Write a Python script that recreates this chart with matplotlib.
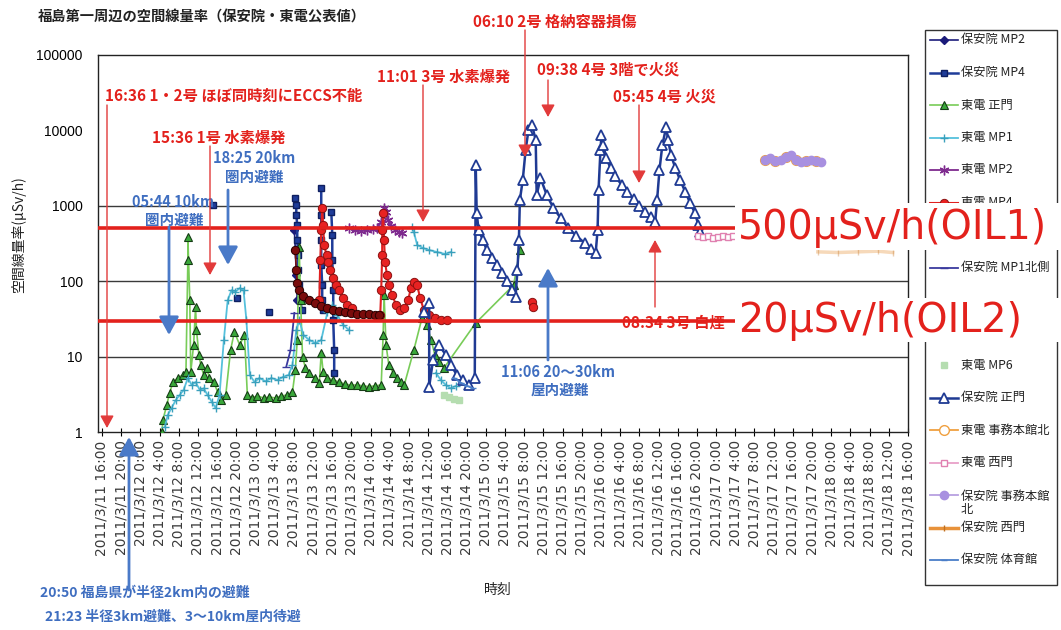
import numpy as np
import matplotlib.pyplot as plt
from matplotlib.lines import Line2D
from matplotlib.patches import Rectangle, FancyArrowPatch
from matplotlib.ticker import NullLocator

plt.rcParams['font.family'] = ['Noto Sans CJK JP', 'DejaVu Sans']

W, H = 1061, 630
nan = np.nan

# 時刻 = 2011/3/11 0:00 からの経過時間 [h]、値 = 空間線量率 [μSv/h]
hoan_mp2_t = [56.1, 56.3, 56.5, 56.7]
hoan_mp2_v = [478, 259, 121, 56]

hoan_mp4_t = [39.1, nan, 44.1, nan, 50.9, nan,
              56.3, 56.5, 56.5, 56.7, 56.7, 56.9, 56.9, 57.1, 57.4, 57.6, nan,
              61.7, 61.7, 61.7, 61.7, 61.9, 61.9, 62.1, nan,
              63.8, 64.0, 64.0, 64.2, 64.2, 64.4, 64.4]
hoan_mp4_v = [1025, nan, 60, nan, 39, nan,
              1270, 1025, 755, 556, 352, 222, 141, 89, 56, 41.5, nan,
              1720, 755, 352, 164, 89, 56, 41.5, nan,
              828, 410, 191, 76, 30.6, 12.2, 6.1]

tepco_gate_t = [28.5, 28.7, 29.5, 30.1, 30.8, 31.8, 32.8, 33.5, 33.9, 33.9,
                34.3, 34.5, 35.1, 35.5, 35.7, 36.2, 36.6, 37.2, 37.8, 38.4,
                39.3, 40.1, 40.9, 41.8, 42.8, 43.6, 44.7, 45.7, 46.3, 47.2,
                48.4, 49.7, 50.9, 52.2, 53.4, 54.6, 55.7, 56.3, 56.7, 57.1,
                57.4, 57.8, 58.4, 59.2, 60.3, 61.3, 61.7, 62.1, 63.0, 64.2,
                65.5, 66.7, 67.9, 69.2, 70.4, 71.7, 72.9, 74.2, 74.6, 74.8,
                75.2, 75.8, 76.7, 77.5, 78.3, 79.0, 81.0, 82.7, 83.7, 84.6,
                85.4, 86.2, 87.3, 93.9, 101.8, 103.1]
tepco_gate_v = [1.0, 1.44, 2.28, 3.3, 4.6, 5.2, 5.7, 6.2, 191, 386,
                56, 6.2, 14.3, 45, 22.5, 10.5, 7.7, 5.7, 7.1, 5.2,
                4.6, 3.4, 2.66, 3.1, 12.2, 21.2, 14.3, 19.3, 3.1, 2.83,
                3.0, 2.83, 2.9, 2.83, 3.0, 3.1, 3.4, 6.6, 16.6, 284,
                56, 9.9, 7.1, 6.1, 5.2, 4.5, 11.2, 6.2, 5.2, 4.9,
                4.6, 4.3, 4.2, 4.2, 4.1, 4.0, 4.1, 4.2, 19.3, 66,
                14.3, 7.7, 6.1, 5.2, 4.6, 4.2, 12.2, 32.5, 26.2, 16.6,
                10.5, 8.5, 7.1, 27.9, 89, 259]

tepco_mp1_t = [29.1, 29.7, 30.5, 31.4, 32.2, 33.0, 33.9, 34.7, 35.5, 36.4,
               37.2, 38.0, 38.9, 39.7, 40.5, 41.4, 42.2, 43.0, 43.8, 44.7,
               45.5, 46.1, 46.8, 47.8, 48.8, 50.1, 51.3, 52.6, 53.8, 54.9,
               55.7, 56.5, 57.1, 58.0, 59.2, 60.5, 61.7, 63.0, 64.0, 65.0,
               66.3, 67.5, nan,
               80.6, 81.0, 81.7, 82.9, 84.2, 85.8, 87.5, 88.7, nan,
               85.6, 86.6, 87.7, 88.7, 89.8]
tepco_mp1_v = [1.16, 1.68, 2.08, 2.66, 3.1, 3.6, 5.2, 4.2, 4.6, 3.6,
               3.8, 3.1, 2.5, 2.08, 3.1, 16.6, 56, 76, 72, 81,
               76, 30.6, 5.7, 4.6, 5.2, 4.7, 5.2, 4.9, 5.4, 5.7,
               7.7, 22.5, 30.6, 19.3, 16.6, 15.1, 16.6, 39, 48, 36,
               26.2, 22.5, nan,
               523, 450, 302, 276, 259, 244, 230, 244, nan,
               6.1, 4.9, 4.2, 3.8, 4.1]

tepco_mp2_t = [67.5, 68.8, 70.0, 71.3, 72.5, 73.4, 74.2, 74.8, 75.2, 75.6,
               76.3, 77.1, 77.9, 78.5]
tepco_mp2_v = [508, 478, 463, 478, 492, 508, 610, 935, 828, 648,
               540, 478, 450, 436]

tepco_mp4_t = [61.3, 61.5, 61.7, 61.9, 62.1, 62.3, 62.8, 63.2, 63.6, 64.2,
               64.8, 65.5, 66.3, 67.1, 68.2, nan,
               74.0, 74.2, 74.4, 74.4, 74.6, 74.8, 75.0, 75.4, 75.8, 76.5,
               77.3, 78.1, 79.0, 79.8, 80.4, 81.0, 81.7, 82.3, 83.1, 84.2,
               85.4, 86.6, 87.9, nan,
               105.6, 105.8]
tepco_mp4_v = [56, 191, 478, 935, 556, 302, 222, 180, 141, 110,
               89, 76, 60, 48, 44, nan,
               36, 76, 222, 478, 803, 352, 180, 121, 89, 66,
               48, 41.5, 44, 56, 81, 98, 89, 60, 41.5, 36,
               32.5, 30.6, 30.6, nan,
               53, 45]

tepco_mp3_t = [56.3, 56.5, 56.7, 57.1, 58.0, 59.2, 60.5, 61.7, 63.0, 64.2,
               65.5, 66.7, 67.9, 69.2, 70.4, 71.7, 72.9, 73.8]
tepco_mp3_v = [259, 141, 95, 76, 64, 56, 51, 47, 44, 41.5,
               40, 39, 38, 37, 37, 37, 36, 36]

hoan_mp1n_t = [54.4, 55.3, 56.1]
hoan_mp1n_v = [7.3, 12.2, 38]

tepco_mp6_t = [87.3, 88.3, 89.4, 90.4]
tepco_mp6_v = [3.1, 2.9, 2.7, 2.66]

hoan_gate_t = [83.1, 84.2, 84.2, 85.0, 86.2, 87.7, 88.7, 90.0, 91.2, 92.5,
               93.7, 93.9, 94.1, 94.5, 95.4, 96.2, 97.2, 98.3, 99.3, 100.4,
               101.4, 102.2, 102.6, 102.9, 103.1, 103.7, 104.3, 104.9, 105.6, 106.4,
               106.6, 107.4, 108.7, 110.1, 111.6, 113.2, 114.9, 116.6, 118.0, 118.9,
               119.3, 119.5, 119.9, 120.1, 120.5, 121.1, 122.0, 123.0, 124.3, 125.5,
               126.8, 128.0, 129.2, 130.5, 131.3, 131.7, 132.2, 132.8, 133.6, 134.0,
               134.6, 135.5, 136.5, 137.6, 138.6, 139.6, 140.3, 140.7]
hoan_gate_v = [39, 51, 4.0, 9.0, 14.3, 10.5, 7.7, 5.7, 4.9, 4.2,
               5.2, 3480, 803, 478, 352, 259, 203, 164, 128, 101,
               76, 62, 141, 352, 1190, 2200, 5500, 10100, 11900, 7460,
               1390, 2340, 1390, 935, 689, 508, 397, 321, 267, 237,
               478, 1620, 5500, 8690, 6400, 4300, 3170, 2480, 1890, 1520,
               1230, 994, 828, 710, 610, 1190, 2990, 6400, 11100, 7460,
               4720, 3170, 2200, 1520, 1090, 803, 556, 450]

tepco_office_t = [154.2, 156.3, 158.5, 160.6, 162.7, 164.8]
tepco_office_v = [4000, 3900, 4400, 4000, 3900, 3900]

tepco_west_t = [140.3, 141.3, 142.3, 143.4, 144.4, 145.5, 146.5, 147.5]
tepco_west_v = [397, 386, 397, 375, 386, 397, 386, 397]

hoan_office_t = [154.2, 155.2, 156.3, 157.5, 158.5, 159.6, 160.6, 161.7, 162.7, 163.7, 164.8, 165.8]
hoan_office_v = [4050, 4300, 3930, 4050, 4440, 4720, 4050, 3810, 3930, 4050, 3930, 3810]

hoan_west_t = [165.2, 169.4, 173.5, 177.7, 180.8]
hoan_west_v = [245, 240, 245, 250, 240]

hoan_gym_t = [89.4, 90.8, 92.1, 93.3]
hoan_gym_v = [5.2, 4.5, 4.1, 3.8]

# 凡例順: (ラベル, 時刻, 値, スタイル)。ラベル None は OIL 表示で隠れている系列
series = [
    ('保安院 MP2', hoan_mp2_t, hoan_mp2_v,
     dict(color='#1b1b7a', lw=1.2, marker='D', ms=4, mfc='#1b1b7a', mec='#1b1b7a')),
    ('保安院 MP4', hoan_mp4_t, hoan_mp4_v,
     dict(color='#1f3c99', lw=1.8, marker='s', ms=5, mfc='#1f3c99', mec='#0f1f60')),
    ('東電 正門', tepco_gate_t, tepco_gate_v,
     dict(color='#78cc58', lw=1.2, marker='^', ms=5.5, mfc='#3aa83a', mec='#163c16', mew=0.8)),
    ('東電 MP1', tepco_mp1_t, tepco_mp1_v,
     dict(color='#55c0dc', lw=1.3, marker='+', ms=6, mfc='#55c0dc', mec='#3aa0bc')),
    ('東電 MP2', tepco_mp2_t, tepco_mp2_v,
     dict(color='#7e2a8e', lw=1.3, marker=(6, 2, 0), ms=7, mfc='#7e2a8e', mec='#7e2a8e')),
    ('東電 MP4', tepco_mp4_t, tepco_mp4_v,
     dict(color='#e02020', lw=1.5, marker='o', ms=6, mfc='#e82222', mec='#8a1010', mew=0.7)),
    (None, tepco_mp3_t, tepco_mp3_v,
     dict(color='#7a1010', lw=1.2, marker='o', ms=6, mfc='#7a0c0c', mec='#2a0000', mew=0.7)),
    ('保安院 MP1北側', hoan_mp1n_t, hoan_mp1n_v,
     dict(color='#3a3a9e', lw=1.3, marker='_', ms=6, mfc='#3a3a9e', mec='#3a3a9e')),
    (None, [], [], None),
    (None, [], [], None),
    ('東電 MP6', tepco_mp6_t, tepco_mp6_v,
     dict(color='none', lw=0, marker='s', ms=4, mfc='#b5ddb0', mec='#b5ddb0')),
    ('保安院 正門', hoan_gate_t, hoan_gate_v,
     dict(color='#1f3a93', lw=1.8, marker='^', ms=7, mfc='white', mec='#1f3a93', mew=1.3)),
    ('東電 事務本館北', tepco_office_t, tepco_office_v,
     dict(color='#f0a040', lw=1.3, marker='o', ms=7, mfc='white', mec='#f0a040')),
    ('東電 西門', tepco_west_t, tepco_west_v,
     dict(color='#e8a0c8', lw=1.3, marker='s', ms=5, mfc='white', mec='#e080b0')),
    ('保安院 事務本館\n北', hoan_office_t, hoan_office_v,
     dict(color='#b8a0e0', lw=1.3, marker='o', ms=6, mfc='#a890e0', mec='#a890e0')),
    ('保安院 西門', hoan_west_t, hoan_west_v,
     dict(color='#e8923a', lw=2.5, marker='|', ms=5, mfc='#e8923a', mec='#c07020')),
    ('保安院 体育館', hoan_gym_t, hoan_gym_v,
     dict(color='#4a7ec8', lw=1.3, marker='_', ms=5, mfc='#4a7ec8', mec='#4a7ec8')),
]
# グラフ上で薄く見える系列
faint = {'保安院 西門': 0.35}

# 出来事 (テキスト位置と矢印 x, 根元 y, 先端 y は画像上のピクセル位置)
red_notes = [
    ('16:36 1・2号 ほぼ同時刻にECCS不能', 105, 96),
    ('15:36 1号 水素爆発', 152, 138),
    ('11:01 3号 水素爆発', 377, 77),
    ('06:10 2号 格納容器損傷', 473, 22),
    ('09:38 4号 3階で火災', 537, 70),
    ('05:45 4号 火災', 613, 97),
    ('08:34 3号 白煙', 622, 323),
]
red_arrows = [(107, 105, 428), (210, 146, 275), (423, 85, 222), (525, 30, 157),
              (548, 80, 117), (639, 105, 183), (655, 307, 240)]
blue_notes = [
    ('05:44 10km', 173, 202), ('圏内避難', 174, 220),
    ('18:25 20km', 254, 158), ('圏内避難', 254, 177),
    ('11:06 20〜30km', 558, 372), ('屋内避難', 560, 390),
]
blue_arrows = [(169, 227, 335), (228, 190, 265), (548, 360, 268), (129, 590, 437)]

x_ticks = list(range(16, 185, 4))
x_labels = [f'2011/3/{11 + h // 24} {h % 24}:00' for h in x_ticks]
y_ticks = [1, 10, 100, 1000, 10000, 100000]
y_labels = ['1', '10', '100', '1000', '10000', '100000']
oil_levels = [500, 30]

RED = '#e3211c'
BLUE = '#3f6ec0'


def fx(x):
    return x / W


def fy(y):
    return 1 - y / H


fig = plt.figure(figsize=(W / 100, H / 100), dpi=100)
ax = fig.add_axes([fx(98), fy(432), (908 - 98) / W, (432 - 55) / H])
ax.set_yscale('log')
ax.set_ylim(1, 100000)
ax.set_xlim(15.17, 183.5)

for g in [10, 100, 1000]:
    ax.axhline(g, color='#3a3a3a', lw=1.0, zorder=1)

for label, t, v, st in series:
    if len(t):
        ax.plot(t, v, zorder=3, alpha=faint.get(label, 1.0), **st)

# OIL 基準線
for lv in oil_levels:
    ax.axhline(lv, color=RED, lw=2.6, zorder=8)

ax.set_yticks(y_ticks)
ax.set_yticklabels(y_labels, fontfamily='Liberation Sans', fontsize=10)
ax.yaxis.set_minor_locator(NullLocator())
ax.tick_params(axis='y', length=0, pad=11)
ax.set_xticks(x_ticks)
ax.set_xticklabels(x_labels, rotation=90, fontfamily='DejaVu Sans', fontsize=10, color='#3a3a3a')
ax.tick_params(axis='x', direction='inout', length=6, pad=3)
for s in ax.spines.values():
    s.set_color('#222222')
    s.set_linewidth(1.0)

# 注記
for txt, x, y in red_notes:
    ax.text(fx(x), fy(y), txt, transform=fig.transFigure, color=RED, fontsize=11,
            fontweight='bold', ha='left', va='center', zorder=6, clip_on=False)
for txt, x, y in blue_notes:
    ax.text(fx(x), fy(y), txt, transform=fig.transFigure, color=BLUE, fontsize=10.5,
            fontweight='bold', ha='center', va='center', zorder=6, clip_on=False)

for x, y0, y1 in red_arrows:
    fig.add_artist(FancyArrowPatch((fx(x), fy(y0)), (fx(x), fy(y1)), transform=fig.transFigure,
                                   arrowstyle='-|>,head_length=1.0,head_width=0.55', mutation_scale=7.5,
                                   color='#e23a3a', lw=1.0, shrinkA=0, shrinkB=0, zorder=5))
for x, y0, y1 in blue_arrows:
    fig.add_artist(FancyArrowPatch((fx(x), fy(y0)), (fx(x), fy(y1)), transform=fig.transFigure,
                                   arrowstyle='-|>,head_length=1.1,head_width=0.6', mutation_scale=10,
                                   color='#4a7ac8', lw=2.0, shrinkA=0, shrinkB=0, zorder=5))

fig.text(fx(40), fy(593), '20:50 福島県が半径2km内の避難', color=BLUE, fontsize=10,
         fontweight='bold', ha='left', va='center')
fig.text(fx(45), fy(617), '21:23 半径3km避難、3〜10km屋内待避', color=BLUE, fontsize=10,
         fontweight='bold', ha='left', va='center')

# タイトル・軸ラベル
fig.text(fx(38), fy(18), '福島第一周辺の空間線量率（保安院・東電公表値）', fontsize=10.3,
         fontweight='bold', ha='left', va='center', color='#222222')
fig.text(fx(19), fy(235), '空間線量率(μSv/h)', fontsize=10, rotation=90,
         ha='center', va='center', color='#222222')
fig.text(fx(498), fy(590), '時刻', fontsize=10, ha='center', va='center', color='#222222')

# 凡例 (手描き)
fig.add_artist(Rectangle((fx(925), fy(585)), (1057 - 925) / W, (585 - 30) / H,
                         transform=fig.transFigure, fill=False, ec='#333333', lw=1.0, zorder=2))
for i, (label, t, v, st) in enumerate(series):
    if label is None:
        continue
    y = 40 + 32.5 * i
    fig.add_artist(Line2D([fx(930), fx(944), fx(958)], [fy(y)] * 3, transform=fig.transFigure,
                          markevery=[1], zorder=3, **st))
    ty = y + 8 if '\n' in label else y
    fig.text(fx(961), fy(ty), label, fontsize=8.8, ha='left', va='center',
             linespacing=1.0, color='#222222', zorder=3)

# OIL ラベル (白地で凡例とグラフ右端の上に重ねる)
for top, bottom in [(203, 250), (298, 342)]:
    fig.add_artist(Rectangle((fx(735), fy(bottom)), (W - 735) / W, (bottom - top) / H,
                             transform=fig.transFigure, fc='white', ec='none', zorder=19))
fig.text(fx(738), fy(228), '500μSv/h(OIL1)', fontsize=28.5, color=RED, ha='left',
         va='center', fontfamily='DejaVu Sans', zorder=20)
fig.text(fx(738), fy(321), '20μSv/h(OIL2)', fontsize=28.5, color=RED, ha='left',
         va='center', fontfamily='DejaVu Sans', zorder=20)

fig.savefig('out.png', dpi=100)
